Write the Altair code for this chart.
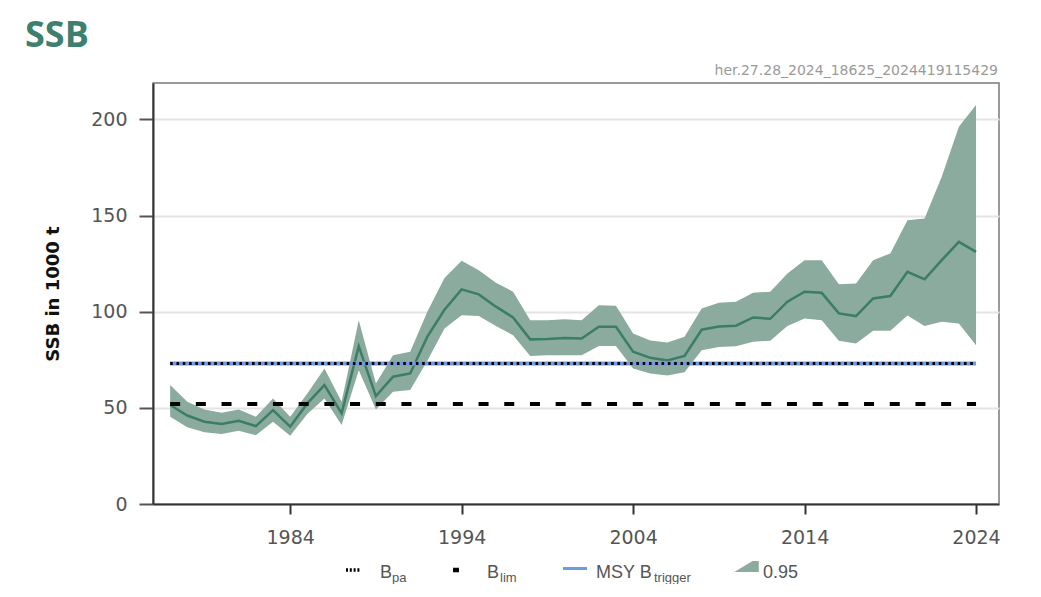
import altair as alt
import pandas as pd

# ---------------- data ----------------
years = list(range(1977, 2025))
ssb = [51.5, 46.0, 42.8, 41.6, 43.3, 40.5, 48.8, 40.2, 52.3, 61.8,
       47.1, 82.0, 56.1, 66.2, 67.9, 87.0, 101.0, 111.6, 109.0, 102.6,
       97.0, 85.6, 85.8, 86.3, 86.1, 92.2, 92.2, 79.2, 76.0, 74.6,
       77.0, 90.6, 92.3, 92.7, 97.0, 96.3, 105.2, 110.4, 109.8, 99.1,
       97.7, 106.9, 108.1, 120.7, 116.8, 126.8, 136.3, 131.1]
upper = [61.9, 53.2, 49.2, 47.5, 49.2, 45.4, 54.9, 45.4, 57.5, 70.5,
         53.2, 95.6, 62.7, 77.4, 79.2, 100.0, 117.5, 126.5, 121.6, 115.0,
         110.4, 95.6, 95.6, 96.0, 95.6, 103.4, 103.1, 88.7, 85.0, 84.0,
         87.0, 101.7, 104.6, 105.2, 109.8, 110.4, 119.9, 126.8, 126.8, 114.3,
         114.7, 126.8, 130.3, 147.6, 148.4, 170.1, 196.1, 207.4]
lower = [45.4, 39.9, 37.3, 36.4, 38.1, 35.7, 42.8, 35.5, 46.8, 54.9,
         41.1, 69.6, 49.2, 58.4, 59.3, 74.5, 91.3, 98.2, 97.7, 92.5,
         87.8, 76.9, 77.3, 77.4, 77.4, 82.1, 82.1, 70.5, 67.9, 66.8,
         68.5, 80.0, 81.6, 82.0, 84.4, 84.9, 92.5, 96.5, 95.6, 84.9,
         83.5, 90.1, 90.1, 98.0, 92.5, 94.8, 93.9, 82.6]
blim = [52]
bpa = [73]
msy_btrigger = [73]
ref_start = [1977]
ref_end = [2024]
x_ticks = [1984, 1994, 2004, 2014, 2024]
y_ticks = [0, 50, 100, 150, 200]

title_text = "SSB"
subtitle_text = "her.27.28_2024_18625_2024419115429"
y_title = "SSB in 1000 t"
legend_main = ["B", "B", "MSY B", "0.95"]
legend_sub = ["pa", "lim", "trigger"]

df = pd.DataFrame({"year": years, "ssb": ssb, "low": lower, "high": upper})
ref = pd.DataFrame({"start": ref_start, "end": ref_end, "blim": blim,
                    "bpa": bpa, "msy": msy_btrigger})
one = pd.DataFrame({"k": [0]})

# ---------------- styles ----------------
W, H = 846, 421
BAND = "#8aab9e"
LINE = "#3b7d67"
BLUE = "#6f9be6"
LEG_FONT = "Liberation Sans"
LEG_COLOR = "#555555"

xscale = alt.Scale(domain=[1976, 2025.34], nice=False, zero=False)
yscale = alt.Scale(domain=[0, 218.9], nice=False)

xaxis = alt.Axis(values=x_ticks, format="d", title=None, grid=False,
                 labelFont="DejaVu Sans", labelFontSize=19, labelColor="#555555",
                 tickSize=10, tickWidth=2, tickColor="#333333",
                 domainColor="#333333", domainWidth=2, labelPadding=14)
yaxis = alt.Axis(values=y_ticks, title=y_title, grid=True,
                 gridColor="#e4e4e4", gridWidth=2,
                 labelFont="DejaVu Sans", labelFontSize=19, labelColor="#555555",
                 tickSize=14, tickWidth=2, tickColor="#555555",
                 domainColor="#333333", domainWidth=2, labelPadding=12,
                 titleFont="DejaVu Sans", titleFontWeight="bold", titleFontSize=18,
                 titleColor="#111111", titlePadding=28)

base = alt.Chart(df)
band = base.mark_area(color=BAND, opacity=1).encode(
    x=alt.X("year:Q", scale=xscale, axis=xaxis),
    y=alt.Y("low:Q", scale=yscale, axis=yaxis),
    y2="high:Q",
)
line = base.mark_line(color=LINE, strokeWidth=2.5).encode(
    x=alt.X("year:Q", scale=xscale),
    y=alt.Y("ssb:Q", scale=yscale),
)

refc = alt.Chart(ref)
blim_rule = refc.mark_rule(color="black", strokeWidth=4, strokeDash=[10, 15.7]).encode(
    x=alt.X("start:Q", scale=xscale), x2="end:Q", y=alt.Y("blim:Q", scale=yscale))
msy_rule = refc.mark_rule(color=BLUE, strokeWidth=4).encode(
    x=alt.X("start:Q", scale=xscale), x2="end:Q", y=alt.Y("msy:Q", scale=yscale))
bpa_rule = refc.mark_rule(color="black", strokeWidth=3, strokeDash=[2.6, 3.7]).encode(
    x=alt.X("start:Q", scale=xscale), x2="end:Q", y=alt.Y("bpa:Q", scale=yscale))

# ---------------- title / subtitle ----------------
oc = alt.Chart(one)
title = oc.mark_text(text=title_text, font="Open Sans", fontWeight="bold", fontSize=36,
                     color="#3e7f6e", align="left", baseline="alphabetic").encode(
    x=alt.value(-128), y=alt.value(-36))
subtitle = oc.mark_text(text=subtitle_text, font="DejaVu Sans", fontSize=14,
                        color="#9a9a9a", align="right", baseline="alphabetic").encode(
    x=alt.value(845), y=alt.value(-8))

# ---------------- custom legend ----------------
def ltext(t, x, size, yb):
    return oc.mark_text(text=t, font=LEG_FONT, fontSize=size, color=LEG_COLOR,
                        align="left", baseline="alphabetic").encode(
        x=alt.value(x), y=alt.value(yb))

leg_y = 495
sub_y = 498.5
leg = [
    oc.mark_rule(color="black", strokeWidth=3.5, strokeDash=[2, 1.8]).encode(
        x=alt.value(193), x2=alt.value(207), y=alt.value(487)),
    ltext(legend_main[0], 227, 18, leg_y),
    ltext(legend_sub[0], 239, 13, sub_y),
    oc.mark_rule(color="black", strokeWidth=4.5).encode(
        x=alt.value(300), x2=alt.value(306), y=alt.value(487)),
    ltext(legend_main[1], 334, 18, leg_y),
    ltext(legend_sub[1], 347, 13, sub_y),
    oc.mark_rule(color=BLUE, strokeWidth=3).encode(
        x=alt.value(410), x2=alt.value(434), y=alt.value(485.5)),
    ltext(legend_main[2], 443, 18, leg_y),
    ltext(legend_sub[2], 501, 13, sub_y),
    oc.mark_point(shape="M -1 0.4 L 0.5 -0.5 L 1 -0.5 L 1 0.4 Z", filled=True,
                  size=600, color=BAND, opacity=1, strokeWidth=0).encode(
        x=alt.value(593.5), y=alt.value(484)),
    ltext(legend_main[3], 610, 18, leg_y),
]

chart = alt.layer(band, line, blim_rule, msy_rule, bpa_rule, title, subtitle, *leg).properties(
    width=W, height=H,
    autosize=alt.AutoSizeParams(type="none"),
    padding={"left": 145, "top": 75, "right": 20, "bottom": 80},
    background="white",
).configure_view(stroke="#7a7a7a", strokeWidth=1.5)

chart.save("out.html", embed_options={"renderer": "svg", "actions": False})
